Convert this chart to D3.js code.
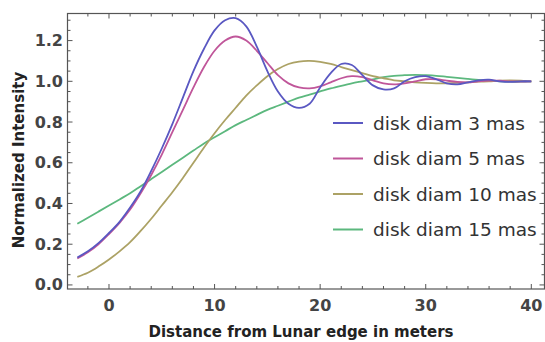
<!DOCTYPE html>
<html><head><meta charset="utf-8">
<script src="https://cdn.jsdelivr.net/npm/d3@7/dist/d3.min.js"></script>
<style>body{margin:0;background:#fff}svg{display:block}</style>
</head><body>
<svg id="c" width="545" height="342"></svg>
<script>
const distances = d3.range(-3, 41);
const diam3 = [0.135,0.165,0.205,0.255,0.31,0.38,0.46,0.56,0.67,0.79,0.92,1.05,1.16,1.25,1.30,1.31,1.27,1.17,1.05,0.95,0.89,0.87,0.89,0.97,1.04,1.085,1.08,1.03,0.98,0.96,0.965,1.0,1.02,1.025,1.01,0.99,0.985,0.995,1.005,1.008,1.0,0.997,1.0,1.0];
const diam5 = [0.13,0.16,0.20,0.25,0.305,0.37,0.45,0.54,0.64,0.75,0.86,0.97,1.07,1.15,1.20,1.22,1.20,1.15,1.09,1.03,0.99,0.97,0.965,0.975,0.995,1.015,1.025,1.02,1.005,0.99,0.985,0.99,1.0,1.01,1.01,1.003,0.997,0.995,1.0,1.003,1.003,1.0,0.998,1.0];
const diam10 = [0.04,0.06,0.09,0.125,0.165,0.21,0.265,0.325,0.39,0.455,0.525,0.6,0.675,0.745,0.81,0.87,0.93,0.98,1.025,1.06,1.085,1.097,1.10,1.095,1.085,1.07,1.055,1.04,1.025,1.015,1.005,1.0,0.995,0.992,0.99,0.99,0.992,0.995,0.998,1.0,1.003,1.004,1.003,1.0];
const diam15 = [0.30,0.33,0.36,0.39,0.42,0.45,0.485,0.52,0.555,0.59,0.625,0.66,0.695,0.725,0.755,0.785,0.81,0.835,0.86,0.88,0.90,0.92,0.935,0.95,0.965,0.978,0.99,1.0,1.01,1.02,1.027,1.03,1.032,1.03,1.027,1.022,1.017,1.012,1.007,1.003,1.0,0.998,0.998,1.0];
const seriesNames = ["disk diam 3 mas","disk diam 5 mas","disk diam 10 mas","disk diam 15 mas"];
const seriesValues = [diam3, diam5, diam10, diam15];
const colors = ["#5a58c2","#c0569a","#aca265","#5cb87e"];
const xTicks = [0,10,20,30,40];
const yTicks = [0.0,0.2,0.4,0.6,0.8,1.0,1.2];

const svg = d3.select("#c");
const L = 67.5, R = 544.5, T = 13.5, B = 289;
const x = d3.scaleLinear().domain([-3.93, 41.25]).range([L, R]);
const y = d3.scaleLinear().domain([-0.02, 1.333]).range([B, T]);

svg.append("defs").append("clipPath").attr("id","clip")
  .append("rect").attr("x",L).attr("y",T).attr("width",R-L-6).attr("height",B-T);

const line = d3.line().x((d,i)=>x(distances[i])).y(d=>y(d)).curve(d3.curveCatmullRom);
const g = svg.append("g").attr("clip-path","url(#clip)");
seriesValues.slice().reverse().forEach((s,k)=>{
  const i = seriesValues.length-1-k;
  g.append("path").attr("d", line(s)).attr("fill","none")
   .attr("stroke", colors[i]).attr("stroke-width", 1.8);
});

// legend
const lg = svg.append("g").attr("clip-path","url(#clip)");
const legY = [123, 158.5, 194, 229.5];
seriesNames.forEach((n,i)=>{
  lg.append("line").attr("x1",333).attr("x2",363).attr("y1",legY[i]).attr("y2",legY[i])
    .attr("stroke",colors[i]).attr("stroke-width",2);
  lg.append("text").attr("x",373).attr("y",legY[i]+6.5).text(n)
    .attr("font-family","DejaVu Sans").attr("font-size",18.5).attr("fill","#333");
});

// frame
const axc = "#555";
svg.append("rect").attr("x",L).attr("y",T).attr("width",R-L).attr("height",B-T)
  .attr("fill","none").attr("stroke",axc).attr("stroke-width",1.2);

const xMinor = d3.range(-2, 41, 2);
const yMinor = d3.range(0, 1.33, 0.05);
const tk = svg.append("g").attr("stroke",axc).attr("stroke-width",1);
xMinor.forEach(v=>{
  const major = Math.abs(v%10) < 1e-6;
  const len = major ? 5 : 3;
  tk.append("line").attr("x1",x(v)).attr("x2",x(v)).attr("y1",B).attr("y2",B-len);
  tk.append("line").attr("x1",x(v)).attr("x2",x(v)).attr("y1",T).attr("y2",T+len);
});
yMinor.forEach(v=>{
  const major = Math.abs(Math.round(v*100)%20) < 1e-6;
  const len = major ? 5 : 3;
  tk.append("line").attr("y1",y(v)).attr("y2",y(v)).attr("x1",L).attr("x2",L+len);
  tk.append("line").attr("y1",y(v)).attr("y2",y(v)).attr("x1",R).attr("x2",R-len);
});

const labs = svg.append("g").attr("font-family","DejaVu Sans").attr("font-weight","bold")
  .attr("font-size",16).attr("fill","#444");
xTicks.forEach(v=>{
  labs.append("text").attr("x",x(v)).attr("y",311).attr("text-anchor","middle").text(v);
});
yTicks.forEach(v=>{
  labs.append("text").attr("x",63).attr("y",y(v)+5.5).attr("text-anchor","end").text(v.toFixed(1));
});

svg.append("text").attr("x",301).attr("y",337).attr("text-anchor","middle")
  .attr("font-family","DejaVu Sans").attr("font-weight","bold").attr("font-size",15)
  .attr("fill","#222").text("Distance from Lunar edge in meters");
svg.append("text").attr("transform","translate(24,160) rotate(-90)").attr("text-anchor","middle")
  .attr("font-family","DejaVu Sans").attr("font-weight","bold").attr("font-size",15)
  .attr("fill","#222").text("Normalized Intensity");
</script>
</body></html>
